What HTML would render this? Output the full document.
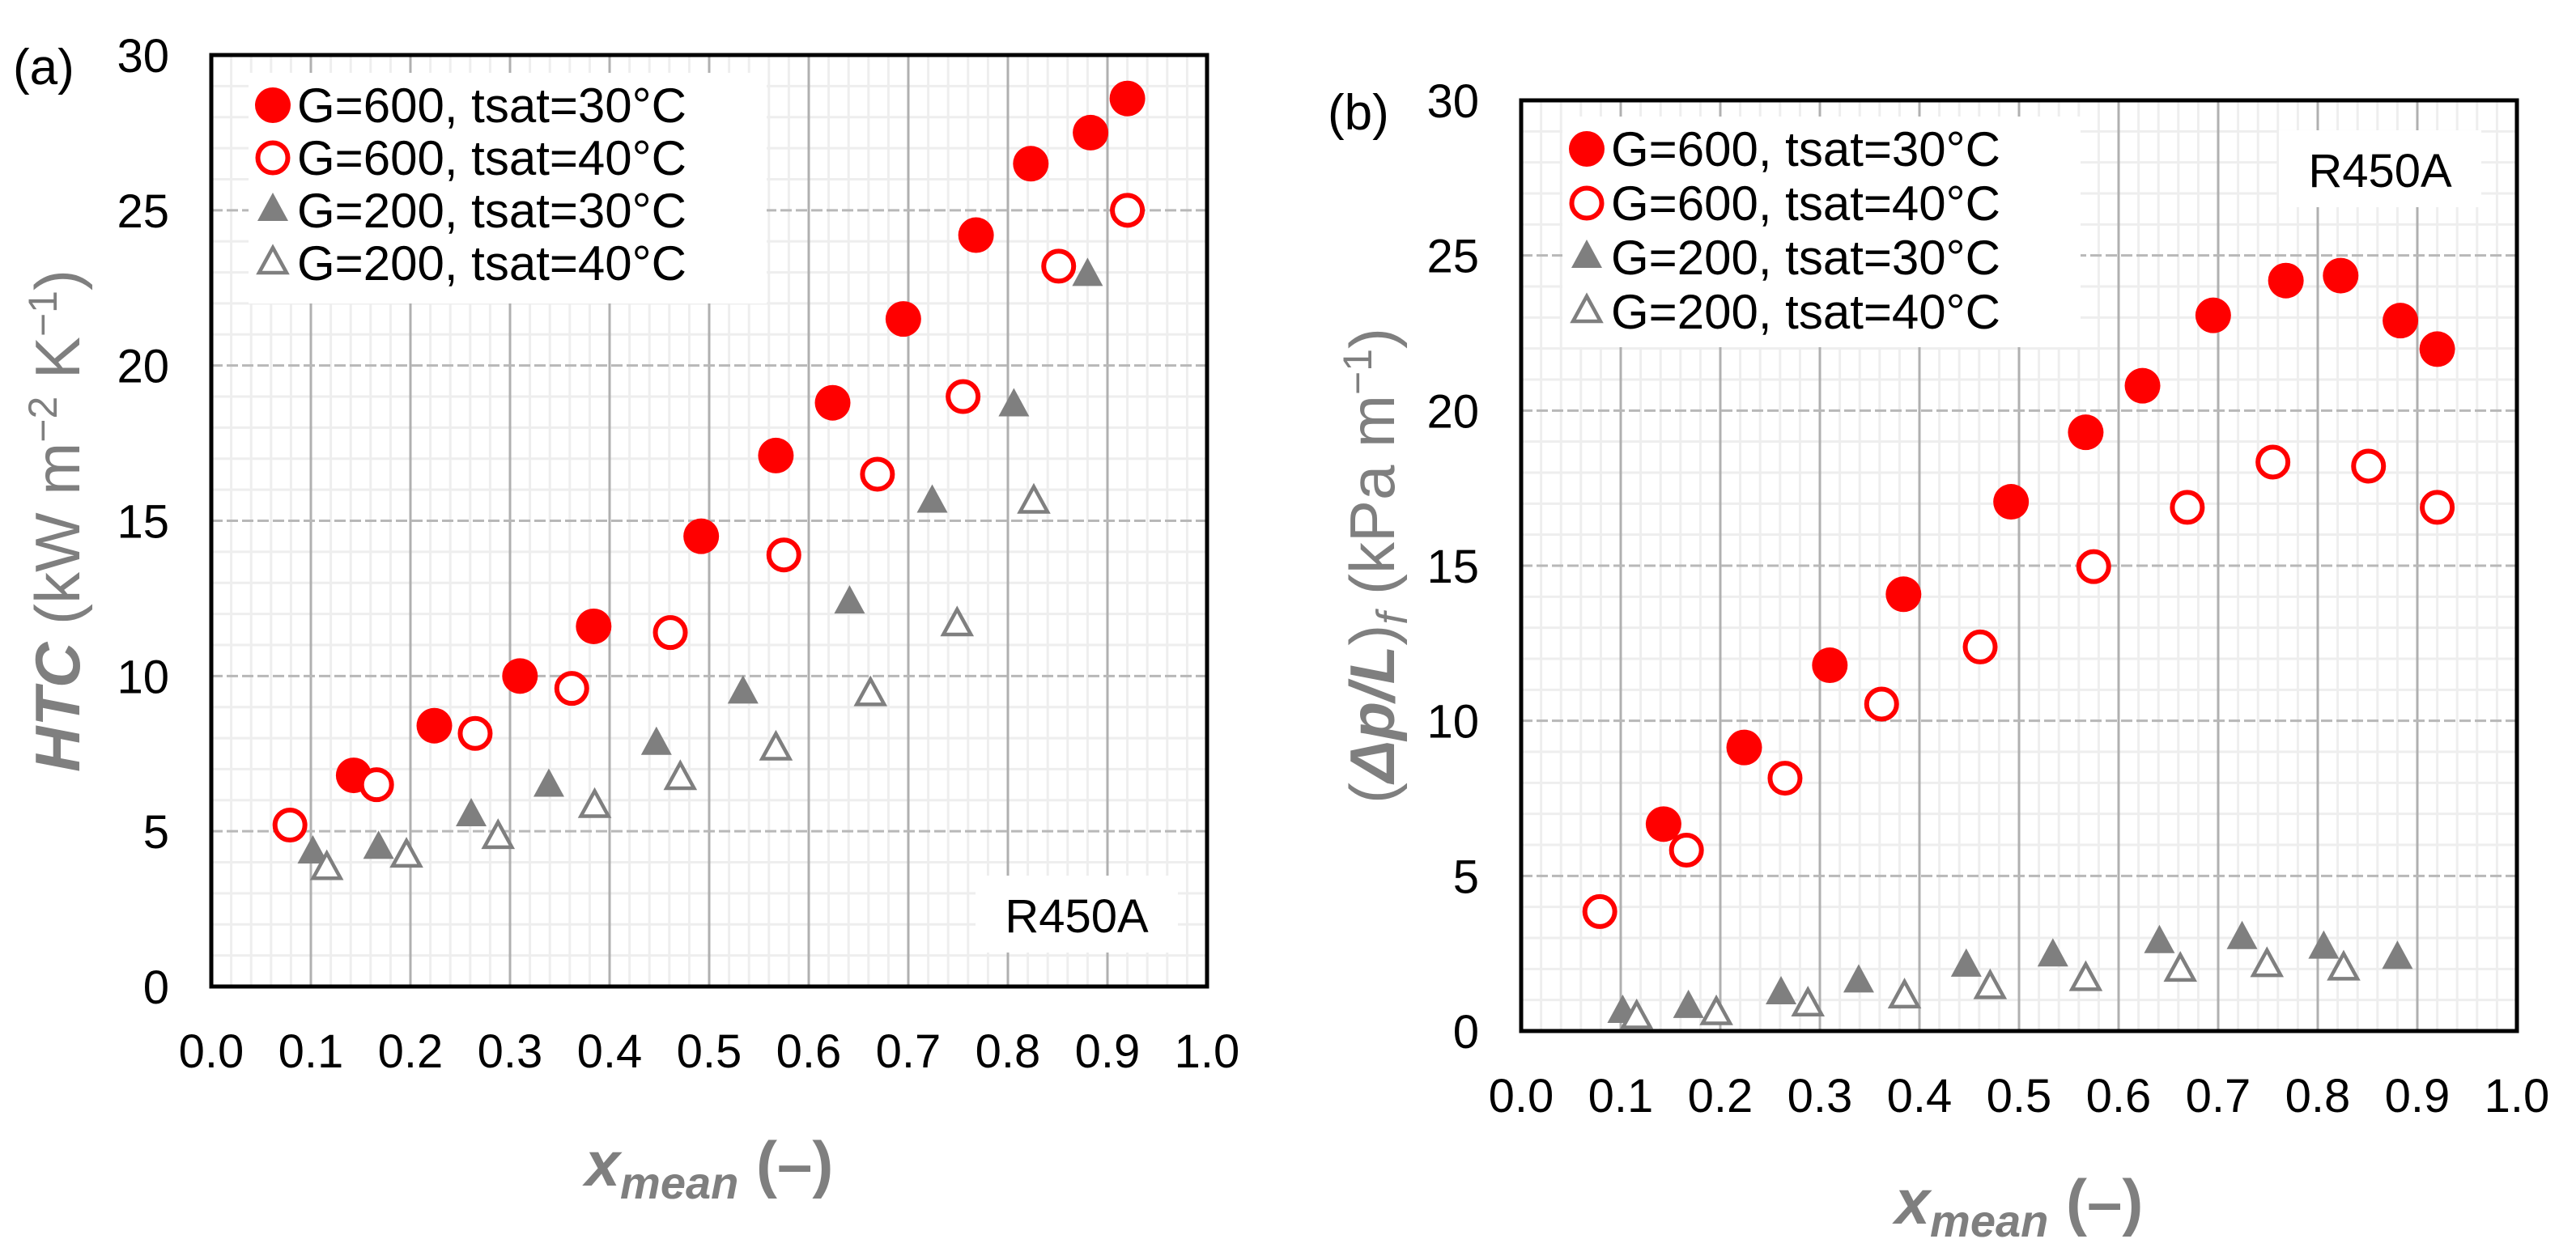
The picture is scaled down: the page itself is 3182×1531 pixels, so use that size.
<!DOCTYPE html>
<html><head><meta charset="utf-8"><style>
html,body{margin:0;padding:0;background:#fff;}
svg{display:block;}
text{font-family:"Liberation Sans",sans-serif;}
</style></head><body>
<svg id="fig" width="3182" height="1531" viewBox="0 0 3182 1531" xmlns="http://www.w3.org/2000/svg"></svg>
<script>
// ---- data ----
const seriesNames = ["G=600, tsat=30°C","G=600, tsat=40°C","G=200, tsat=30°C","G=200, tsat=40°C"];
const xTicks = [0,0.1,0.2,0.3,0.4,0.5,0.6,0.7,0.8,0.9,1.0];
const yTicks = [0,5,10,15,20,25,30];
const xA = [0.143,0.224,0.31,0.384,0.492,0.567,0.624,0.695,0.768,0.823,0.883,0.92];
const xB = [0.079,0.166,0.265,0.362,0.461,0.575,0.669,0.755,0.851,0.92];
const xC = [0.102,0.168,0.261,0.339,0.447,0.534,0.641,0.724,0.806,0.88];
const xD = [0.116,0.196,0.288,0.385,0.471,0.567,0.662,0.749,0.826];
const htcA = [6.8,8.4,10.0,11.6,14.5,17.1,18.8,21.5,24.2,26.5,27.5,28.6];
const htcB = [5.2,6.5,8.15,9.6,11.4,13.9,16.5,19.0,23.2,25.0];
const htcC = [4.3,4.45,5.5,6.45,7.8,9.45,12.35,15.6,18.7,22.9];
const htcD = [3.8,4.2,4.8,5.8,6.7,7.65,9.4,11.65,15.6];
const dpA = [6.67,9.14,11.79,14.08,17.06,19.3,20.8,23.07,24.19,24.35,22.9,21.98];
const dpB = [3.85,5.83,8.15,10.54,12.38,14.97,16.88,18.34,18.21,16.88];
const dpC = [0.6,0.76,1.2,1.58,2.09,2.42,2.85,2.98,2.67,2.34];
const dpD = [0.43,0.56,0.84,1.1,1.4,1.66,1.96,2.11,2.0];

const NS="http://www.w3.org/2000/svg";
const fig=document.getElementById('fig');
function mk(tag,attrs,parent){const e=document.createElementNS(NS,tag);for(const k in attrs)e.setAttribute(k,attrs[k]);(parent||fig).appendChild(e);return e;}

function marker(g,type,cx,cy){
  let e;
  if(type===0){e=mk('circle',{cx:cx,cy:cy,r:22,fill:'#ff0000'},g);}
  else if(type===1){e=mk('circle',{cx:cx,cy:cy,r:18.5,fill:'#fff',stroke:'#ff0000','stroke-width':6},g);}
  else if(type===2){e=mk('polygon',{points:`${cx},${cy-22} ${cx+19},${cy+13} ${cx-19},${cy+13}`,fill:'#7f7f7f'},g);}
  else {e=mk('polygon',{points:`${cx},${cy-19} ${cx+17},${cy+12} ${cx-17},${cy+12}`,fill:'#fff',stroke:'#7f7f7f','stroke-width':4.5},g);}
  return e;
}

function chart(o){
  const g=mk('g',{});
  
  
  const L=o.L,R=o.R,T=o.T,B=o.B;
  const sx=v=>L+(R-L)*v, sy=v=>B-(B-T)*v/30;
  for(let i=1;i<50;i++){if(i%5===0)continue;const x=sx(i*0.02);mk('line',{x1:x,x2:x,y1:T,y2:B,stroke:'#eeeeee','stroke-width':3},g);}
  for(let i=1;i<30;i++){if(i%5===0)continue;const y=sy(i);mk('line',{x1:L,x2:R,y1:y,y2:y,stroke:'#eeeeee','stroke-width':3},g);}
  xTicks.forEach(v=>{if(v>0&&v<1){const x=sx(v);const l=mk('line',{x1:x,x2:x,y1:T,y2:B,stroke:'#b0b0b0','stroke-width':3},g);}});
  yTicks.forEach(v=>{if(v>0&&v<30){const y=sy(v);const l=mk('line',{x1:L,x2:R,y1:y,y2:y,stroke:'#b8b8b8','stroke-width':3,'stroke-dasharray':'14 5'},g);}});
  const lb=mk('rect',{x:o.legX-30,y:o.legY-40,width:640,height:285,fill:'#fff'},g);
  
  mk('rect',{x:o.rX-125,y:o.rY-50,width:250,height:95,fill:'#fff'},g);
  const rt=mk('text',{x:o.rX,y:o.rY+20,'font-size':58,'text-anchor':'middle',fill:'#000'},g);rt.textContent='R450A';
  
  const fr=mk('rect',{x:L,y:T,width:R-L,height:B-T,fill:'none',stroke:'#000','stroke-width':5},g);
  
  xTicks.forEach(v=>{const t=mk('text',{x:sx(v),y:B+100,'font-size':58,'text-anchor':'middle',fill:'#000'},g);t.textContent=v.toFixed(1);});
  yTicks.forEach(v=>{const t=mk('text',{x:L-52,y:sy(v)+21,'font-size':58,'text-anchor':'end',fill:'#000'},g);t.textContent=v;});
  const xs=[xA,xB,xC,xD];
  o.ys.forEach((ys,si)=>{
    const sg=mk('g',{},g);
    
    ys.forEach((v,i)=>{const m=marker(sg,si,sx(xs[si][i]),sy(v));});
  });
  seriesNames.forEach((n,i)=>{
    const y=o.legY+i*o.legDy;
    const lg=mk('g',{},g);
    
    marker(lg,i,o.legX,y);
    const t=mk('text',{x:o.legX+30,y:y+21,'font-size':60,fill:'#000'},lg);t.textContent=n;
  });
  const xt=mk('text',{x:(L+R)/2,y:o.xtY,'font-size':78,'font-weight':'bold','text-anchor':'middle',fill:'#7f7f7f'},g);
  xt.innerHTML='<tspan font-style="italic">x</tspan><tspan font-style="italic" font-size="56" dy="16">mean</tspan><tspan dy="-16"> (–)</tspan>';
  
  const yt=mk('text',{x:0,y:0,'font-size':78,'text-anchor':'middle',fill:'#7f7f7f',transform:`translate(${o.ytX},${(T+B)/2}) rotate(-90)`},g);
  yt.innerHTML=o.ytitle;
  
  const pl=mk('text',{x:o.pX,y:o.pY,'font-size':62,fill:'#000','font-family':'Liberation Serif, serif'},g);pl.textContent=o.panel;
  
}

chart({name:'htc-chart',L:261,R:1491,T:68,B:1219,ys:[htcA,htcB,htcC,htcD],legX:337,legY:130,legDy:65,rX:1330,rY:1132,xtY:1465,ytX:98,panel:'(a)',pX:16,pY:104,
 ytitle:'<tspan font-weight="bold" font-style="italic">HTC</tspan> (kW m<tspan font-size="50" dy="-28">−2</tspan><tspan dy="28"> K</tspan><tspan font-size="50" dy="-28">−1</tspan><tspan dy="28">)</tspan>'});
chart({name:'pressure-drop-chart',L:1879,R:3109,T:124,B:1274,ys:[dpA,dpB,dpC,dpD],legX:1960,legY:184,legDy:67,rX:2940,rY:211,xtY:1512,ytX:1722,panel:'(b)',pX:1640,pY:160,
 ytitle:'(<tspan font-weight="bold" font-style="italic">Δp/L</tspan>)<tspan font-size="54" font-style="italic" dy="16">f</tspan><tspan dy="-16"> (kPa m</tspan><tspan font-size="50" dy="-28">−1</tspan><tspan dy="28">)</tspan>'});
</script>
</body></html>
